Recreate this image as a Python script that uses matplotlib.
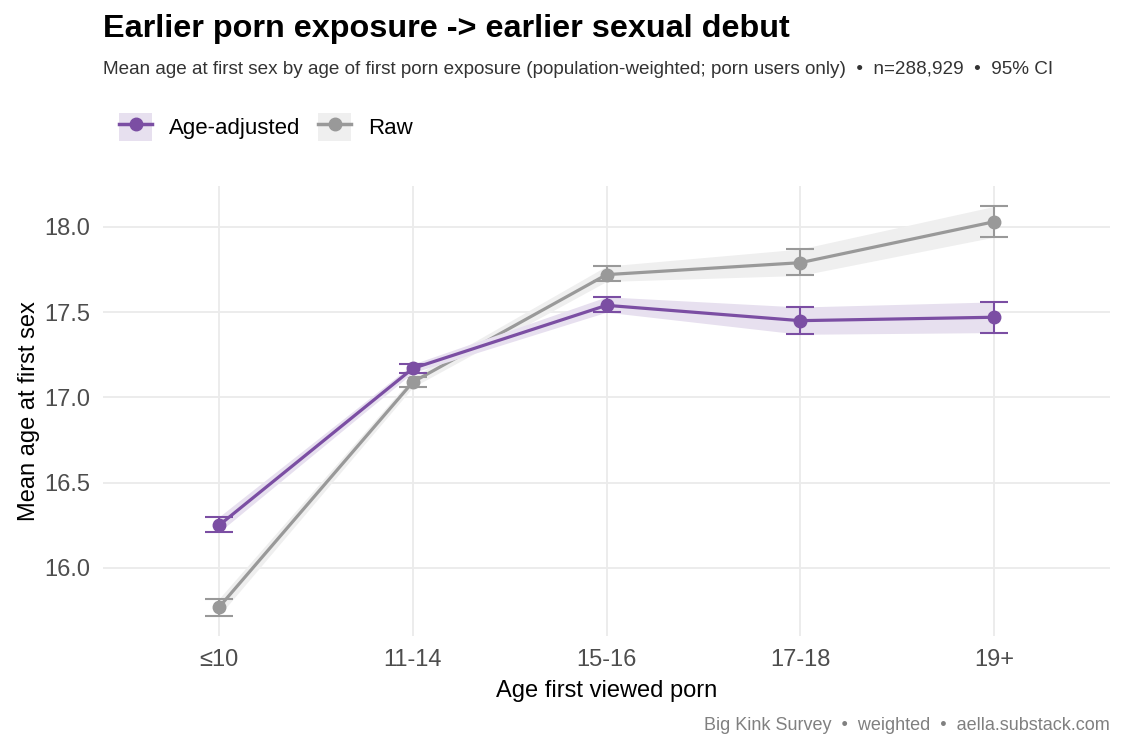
import matplotlib.pyplot as plt
from matplotlib.lines import Line2D
from matplotlib.patches import Patch
import numpy as np

plt.rcParams['font.family'] = ['Liberation Sans', 'DejaVu Sans']

categories = ['≤10', '11-14', '15-16', '17-18', '19+']

adj_mean = [16.25, 17.17, 17.54, 17.45, 17.47]
adj_lo = [16.21, 17.145, 17.50, 17.37, 17.38]
adj_hi = [16.30, 17.195, 17.59, 17.53, 17.56]

raw_mean = [15.77, 17.09, 17.72, 17.79, 18.03]
raw_lo = [15.72, 17.06, 17.68, 17.715, 17.94]
raw_hi = [15.82, 17.12, 17.77, 17.87, 18.12]

purple = '#7B4EA3'
grey = '#999999'
purple_fill = '#E7E0EF'
grey_fill = '#EFEFEF'

fig = plt.figure(figsize=(11.25, 7.5), dpi=100)
ax = fig.add_axes([103 / 1125, 1 - 636 / 750, (1110 - 103) / 1125, (636 - 186) / 750])

x = np.arange(len(categories))

for mean, lo, hi, col, fill, z in [(raw_mean, raw_lo, raw_hi, grey, grey_fill, 2),
                                   (adj_mean, adj_lo, adj_hi, purple, purple_fill, 3)]:
    ax.fill_between(x, lo, hi, color=fill, lw=0, zorder=z)
    ax.plot(x, mean, color=col, lw=2.3, zorder=z + 0.1)
    ax.errorbar(x, mean, yerr=[np.array(mean) - np.array(lo), np.array(hi) - np.array(mean)],
                fmt='none', ecolor=col, elinewidth=1.5, capsize=10, capthick=1.5, zorder=z + 0.2)
    ax.plot(x, mean, 'o', color=col, ms=9, zorder=z + 0.3)

ax.set_xlim(-0.6, 4.6)
ax.set_ylim(15.6, 18.24)
ax.set_xticks(x)
ax.set_xticklabels(categories)
ax.set_yticks([16.0, 16.5, 17.0, 17.5, 18.0])
ax.set_yticklabels(['16.0', '16.5', '17.0', '17.5', '18.0'])
ax.tick_params(axis='both', length=0, labelsize=17, labelcolor='#4D4D4D', pad=9)
ax.grid(True, color='#EBEBEB', lw=1.3)
ax.set_axisbelow(True)
for s in ax.spines.values():
    s.set_visible(False)

ax.set_xlabel('Age first viewed porn', fontsize=17, labelpad=7)
ax.set_ylabel('Mean age at first sex', fontsize=17, labelpad=3)

fig.text(103 / 1125, 1 - 29 / 750, 'Earlier porn exposure -> earlier sexual debut',
         fontsize=23.3, fontweight='bold', va='center', ha='left')
fig.text(103 / 1125, 1 - 70 / 750,
         'Mean age at first sex by age of first porn exposure (population-weighted; porn users only)  •  n=288,929  •  95% CI',
         fontsize=13.6, color='#333333', va='center', ha='left')
fig.text(1110 / 1125, 1 - 725 / 750, 'Big Kink Survey  •  weighted  •  aella.substack.com',
         fontsize=13, color='#808080', va='center', ha='right')

handles = [
    (Patch(facecolor=purple_fill, edgecolor='none'),
     Line2D([], [], color=purple, lw=2.5, marker='o', ms=9)),
    (Patch(facecolor=grey_fill, edgecolor='none'),
     Line2D([], [], color=grey, lw=2.5, marker='o', ms=9)),
]
fig.legend(handles, ['Age-adjusted', 'Raw'], loc='center left',
           bbox_to_anchor=(119 / 1125, 1 - 127 / 750), ncol=2, frameon=False,
           fontsize=16, handlelength=1.5, handleheight=1.6, handletextpad=0.75,
           columnspacing=0.8, borderaxespad=0, borderpad=0)

fig.savefig('out.png', dpi=100)
